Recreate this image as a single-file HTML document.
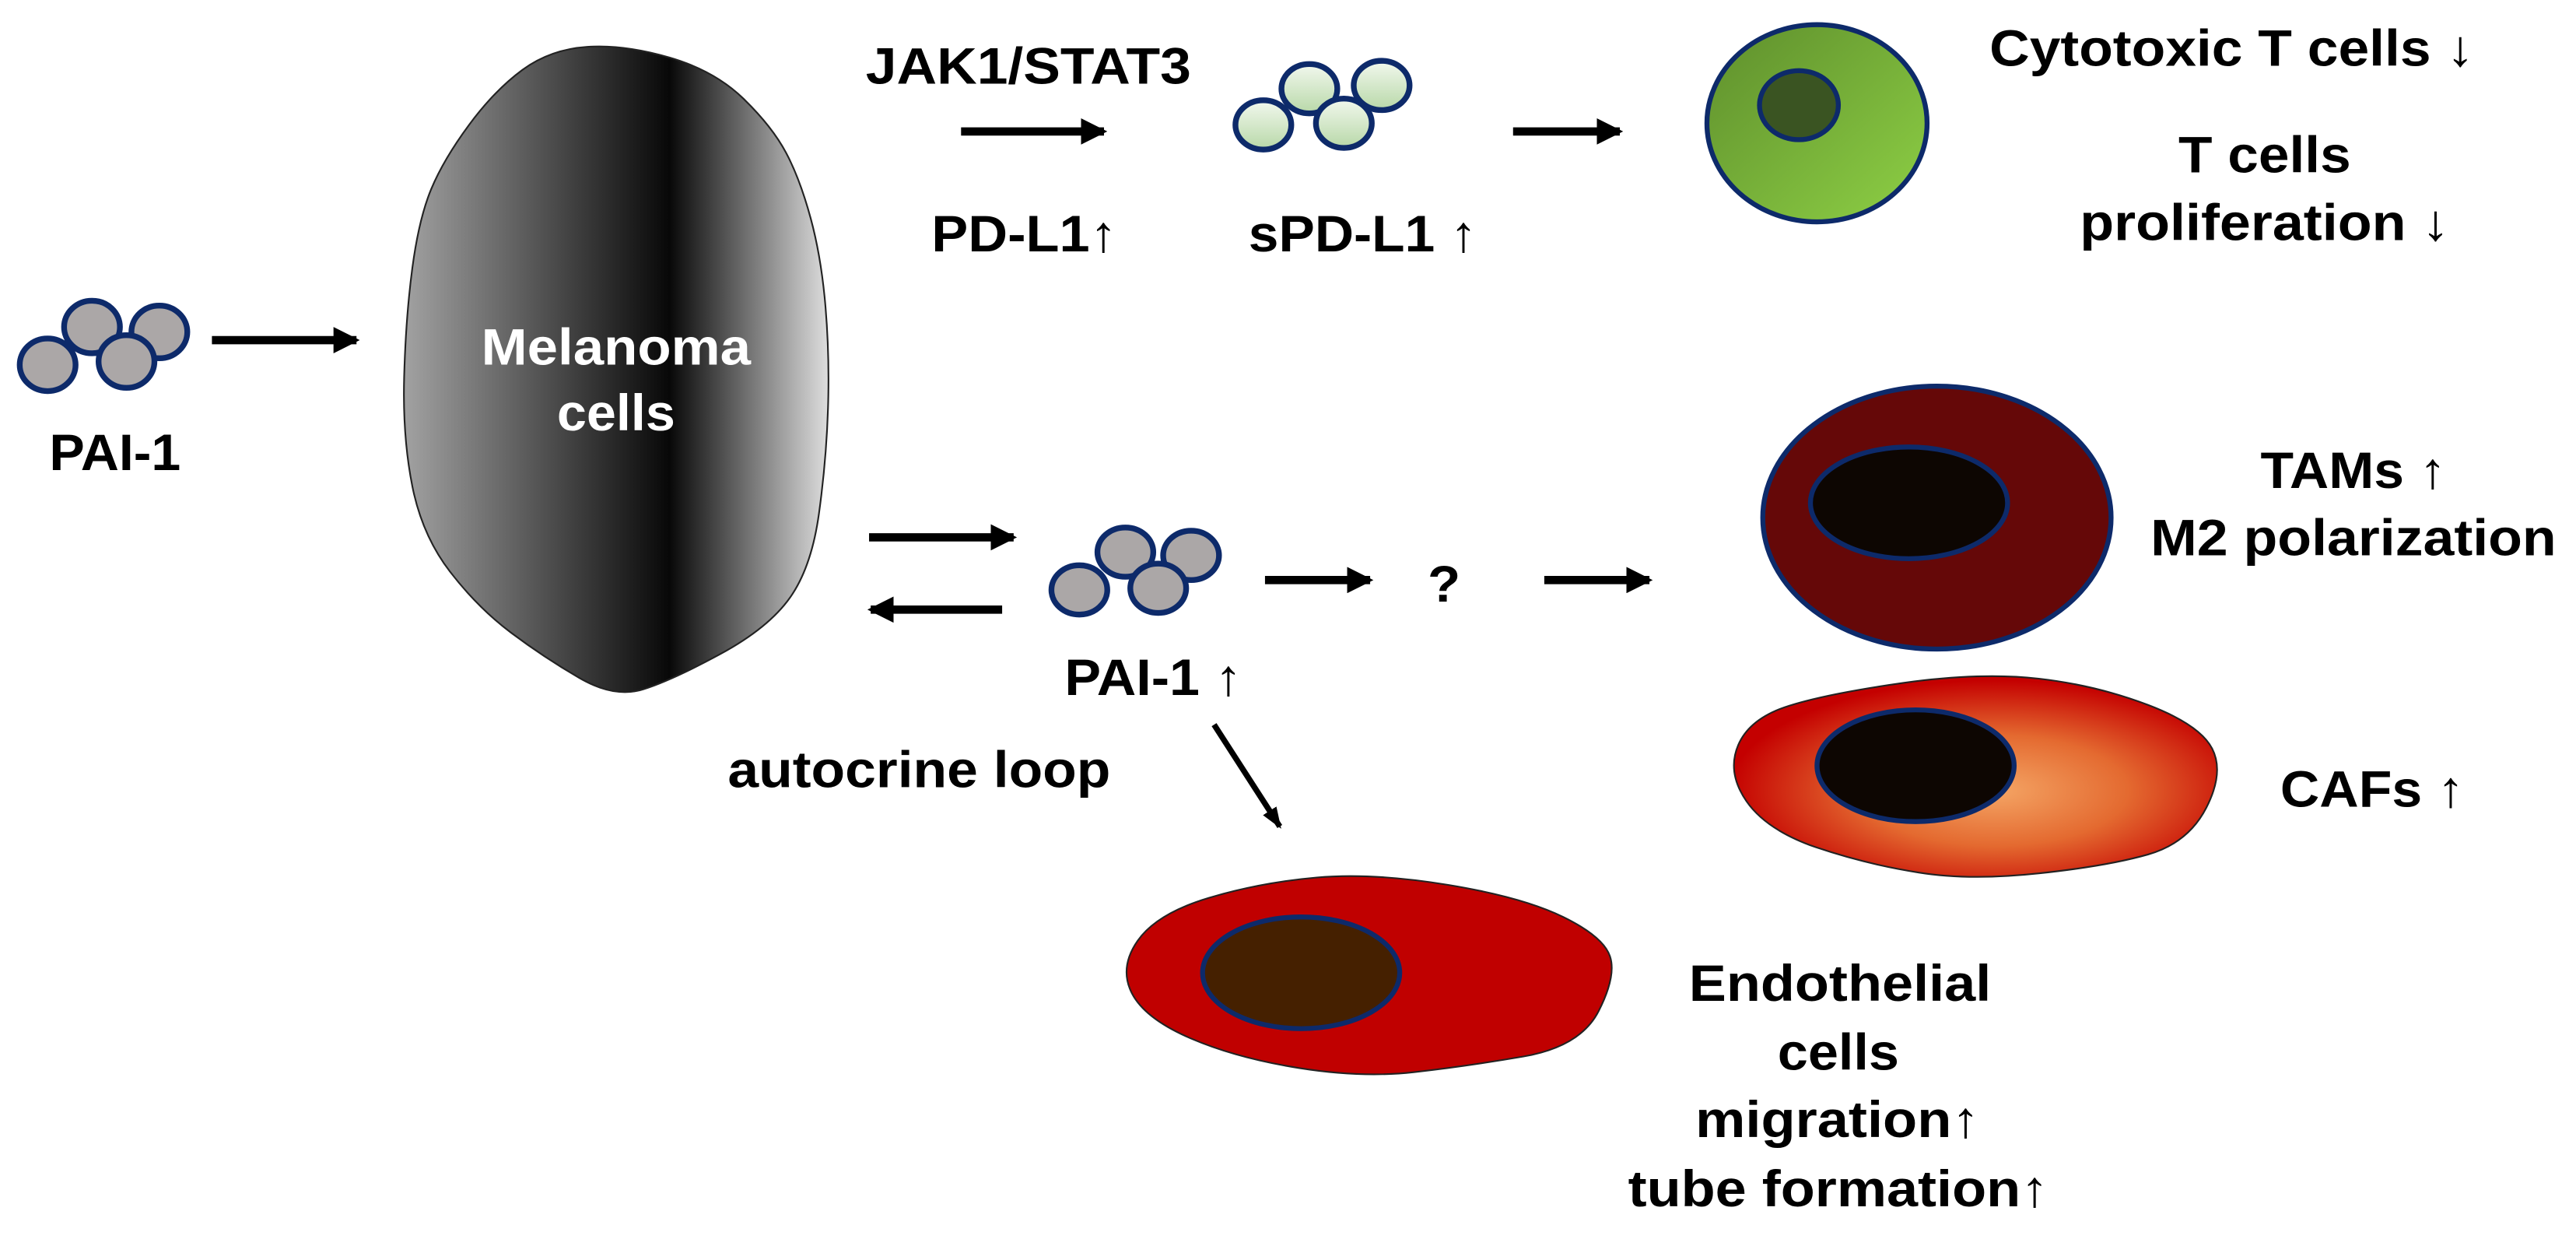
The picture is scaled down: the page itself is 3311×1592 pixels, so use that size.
<!DOCTYPE html>
<html><head><meta charset="utf-8"><style>html,body{margin:0;padding:0;background:#fff}svg{display:block}text{font-family:"Liberation Sans",Arial,sans-serif;font-weight:bold;font-size:31px;fill:#000}</style></head><body>
<svg width="3311" height="1592" viewBox="0 0 1568 754" preserveAspectRatio="none" xmlns="http://www.w3.org/2000/svg">
<defs>
<linearGradient id="mel" x1="245" x2="507" y1="0" y2="0" gradientUnits="userSpaceOnUse"><stop offset="0" stop-color="#a3a3a3"/><stop offset="0.62" stop-color="#080808"/><stop offset="1" stop-color="#e4e4e4"/></linearGradient>
<linearGradient id="tc" x1="0" y1="0" x2="1" y2="1"><stop offset="0" stop-color="#5e8e2c"/><stop offset="1" stop-color="#8ed045"/></linearGradient>
<linearGradient id="sp" x1="0" y1="0" x2="0" y2="1"><stop offset="0" stop-color="#f2f8ee"/><stop offset="1" stop-color="#b8d8a8"/></linearGradient>
<radialGradient id="caf" cx="0.54" cy="0.57" r="0.55"><stop offset="0" stop-color="#f4a565"/><stop offset="0.5" stop-color="#e46a30"/><stop offset="1" stop-color="#c40000"/></radialGradient>
<marker id="ah" viewBox="0 0 16 16" refX="14" refY="8" markerWidth="16" markerHeight="16" markerUnits="userSpaceOnUse" orient="auto"><path d="M0,0L16,8L0,16z" fill="#000"/></marker>
<marker id="ah2" viewBox="0 0 16 16" refX="14" refY="8" markerWidth="13" markerHeight="13" markerUnits="userSpaceOnUse" orient="auto"><path d="M0,2L16,8L0,14z" fill="#000"/></marker>
</defs>
<g stroke="#000" stroke-width="5" marker-end="url(#ah)">
<line x1="129" y1="207" x2="217" y2="207"/>
<line x1="585" y1="80" x2="672" y2="80"/>
<line x1="921" y1="80" x2="986" y2="80"/>
<line x1="529" y1="327" x2="617" y2="327"/>
<line x1="610" y1="371" x2="530" y2="371"/>
<line x1="770" y1="353" x2="834" y2="353"/>
<line x1="940" y1="353" x2="1004" y2="353"/>
</g>
<line x1="739" y1="441" x2="779" y2="503" stroke="#000" stroke-width="3.5" marker-end="url(#ah2)"/>
<path d="M407.5,35 Q435,43 452.5,60 Q470,77 478.5,93 Q487,109 493.5,133 Q500,157 502.5,187 Q505,217 504,248.5 Q503,280 498.5,312.5 Q494,345 481,363.5 Q468,382 438.5,398 Q409,414 391.5,419.5 Q374,425 352.5,412.5 Q331,400 311,385 Q291,370 274,348 Q257,326 251,296 Q245,266 246,229.5 Q247,193 251,163 Q255,133 262.5,115 Q270,97 285.5,76 Q301,55 318,42.5 Q335,30 357.5,28.5 Q380,27 407.5,35Z" fill="url(#mel)" stroke="#222" stroke-width="1"/>
<text x="293" y="222" textLength="164" lengthAdjust="spacingAndGlyphs" style="fill:#fff">Melanoma</text>
<text x="339" y="262" textLength="72" lengthAdjust="spacingAndGlyphs" style="fill:#fff">cells</text>
<g fill="#aba7a7" stroke="#0d2a6a" stroke-width="3.5">
<ellipse cx="56" cy="199" rx="17" ry="16"/><ellipse cx="97" cy="202" rx="17" ry="16"/><ellipse cx="29" cy="222" rx="17" ry="16"/><ellipse cx="77" cy="220" rx="17" ry="16"/>
<ellipse cx="685" cy="336" rx="17" ry="15"/><ellipse cx="725" cy="338" rx="17" ry="15"/><ellipse cx="657" cy="359" rx="17" ry="15"/><ellipse cx="705" cy="358" rx="17" ry="15"/>
</g>
<g fill="url(#sp)" stroke="#0d2a6a" stroke-width="3.5">
<ellipse cx="769" cy="76" rx="17" ry="15"/><ellipse cx="797" cy="54" rx="17" ry="15"/><ellipse cx="841" cy="52" rx="17" ry="15"/><ellipse cx="818" cy="75" rx="17" ry="15"/>
</g>
<text x="30" y="286" textLength="80" lengthAdjust="spacingAndGlyphs">PAI-1</text>
<text x="527" y="51" textLength="198" lengthAdjust="spacingAndGlyphs">JAK1/STAT3</text>
<text x="567" y="153" textLength="113" lengthAdjust="spacingAndGlyphs">PD-L1↑</text>
<text x="760" y="153" textLength="139" lengthAdjust="spacingAndGlyphs">sPD-L1 ↑</text>
<ellipse cx="1106" cy="75" rx="67" ry="60" fill="url(#tc)" stroke="#0d2a6a" stroke-width="3"/>
<ellipse cx="1095" cy="64" rx="24" ry="21" fill="#3a5422" stroke="#0d2a6a" stroke-width="3"/>
<text x="1211" y="40" textLength="295" lengthAdjust="spacingAndGlyphs">Cytotoxic T cells ↓</text>
<text x="1326" y="105" textLength="105" lengthAdjust="spacingAndGlyphs">T cells</text>
<text x="1266" y="146" textLength="225" lengthAdjust="spacingAndGlyphs">proliferation ↓</text>
<ellipse cx="1179" cy="315" rx="106" ry="80" fill="#650808" stroke="#0d2a6a" stroke-width="3"/>
<ellipse cx="1162" cy="306" rx="60" ry="34" fill="#0d0602" stroke="#0d2a6a" stroke-width="3"/>
<text x="1376" y="297" textLength="113" lengthAdjust="spacingAndGlyphs">TAMs ↑</text>
<text x="1309" y="338" textLength="247" lengthAdjust="spacingAndGlyphs">M2 polarization</text>
<text x="869" y="366" textLength="20" lengthAdjust="spacingAndGlyphs">?</text>
<text x="648" y="423" textLength="108" lengthAdjust="spacingAndGlyphs">PAI-1 ↑</text>
<text x="443" y="479" textLength="233" lengthAdjust="spacingAndGlyphs">autocrine loop</text>
<path d="M1241,413 Q1276,417 1307.5,429 Q1339,441 1346.5,455.5 Q1354,470 1343,491.5 Q1332,513 1307.5,520 Q1283,527 1241,531.5 Q1199,536 1168,531 Q1136,526 1105,515.5 Q1075,505 1063,487.5 Q1051,470 1058,453.5 Q1065,437 1089,429.5 Q1113,422 1159,415.5 Q1206,409 1241,413Z" fill="url(#caf)" stroke="#222" stroke-width="1"/>
<ellipse cx="1166" cy="466" rx="60" ry="34" fill="#0d0602" stroke="#0d2a6a" stroke-width="3"/>
<text x="1388" y="491" textLength="112" lengthAdjust="spacingAndGlyphs">CAFs ↑</text>
<path d="M881.5,538.5 Q927,546 951.5,558 Q976,570 980,582 Q984,594 973,615.5 Q962,637 927,643 Q892,649 860.5,652.5 Q829,656 791,650 Q753,644 725,632 Q697,620 689,604.5 Q681,589 692.5,572.5 Q704,556 735.5,546.5 Q767,537 801.5,534 Q836,531 881.5,538.5Z" fill="#c00000" stroke="#222" stroke-width="1"/>
<ellipse cx="792" cy="592" rx="60" ry="34" fill="#452000" stroke="#0d2a6a" stroke-width="3"/>
<text x="1028" y="609" textLength="184" lengthAdjust="spacingAndGlyphs">Endothelial</text>
<text x="1082" y="651" textLength="74" lengthAdjust="spacingAndGlyphs">cells</text>
<text x="1032" y="692" textLength="173" lengthAdjust="spacingAndGlyphs">migration↑</text>
<text x="991" y="734" textLength="256" lengthAdjust="spacingAndGlyphs">tube formation↑</text>
</svg>
</body></html>
